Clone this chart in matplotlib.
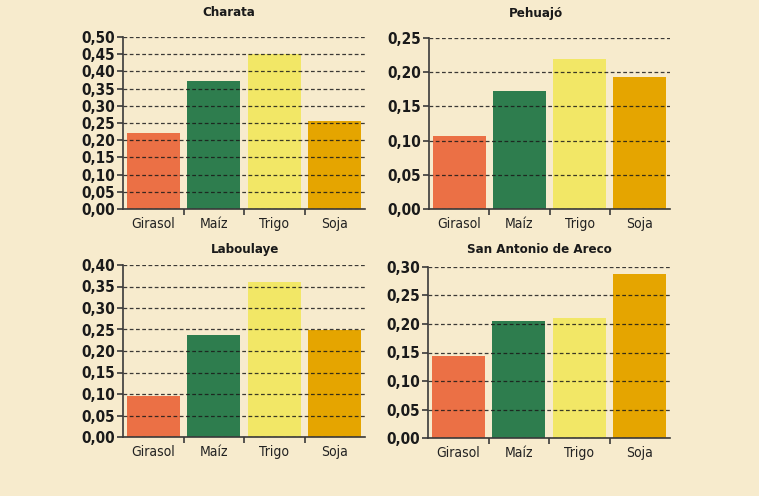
import matplotlib
matplotlib.use("Agg")
import matplotlib.pyplot as plt
from matplotlib.ticker import FuncFormatter, MultipleLocator, FixedLocator

categories = ["Girasol", "Maíz", "Trigo", "Soja"]
titles = ["Charata", "Pehuajó", "Laboulaye", "San Antonio de Areco"]
charata = [0.221, 0.372, 0.451, 0.256]
pehuajo = [0.107, 0.172, 0.219, 0.193]
laboulaye = [0.096, 0.238, 0.361, 0.249]
san_antonio = [0.143, 0.206, 0.210, 0.287]
series = [charata, pehuajo, laboulaye, san_antonio]
ymax = [0.50, 0.25, 0.40, 0.30]
ystep = [0.05, 0.05, 0.05, 0.05]

colors = ["#EB7045", "#2E7D4E", "#F2E766", "#E5A500"]
bg = "#F7EBCD"

plt.rcParams['font.family'] = ['DejaVu Sans']
plt.rcParams['font.stretch'] = 'condensed'

fig = plt.figure(figsize=(7.59, 4.96), dpi=100, facecolor=bg)
W, H = 759, 496
boxes = [(123, 37, 365, 209), (429, 38, 670, 209),
         (123, 265, 365, 437), (428, 267, 670, 438)]
title_pos = [(229, 13), (536, 13), (245, 249), (539, 249)]

for i, (x0, y0, x1, y1) in enumerate(boxes):
    ax = fig.add_axes([x0 / W, 1 - y1 / H, (x1 - x0) / W, (y1 - y0) / H])
    ax.set_facecolor(bg)
    xs = range(len(categories))
    ax.bar(xs, series[i], width=0.88, color=colors, zorder=2)
    ax.set_xlim(-0.5, 3.5)
    ax.set_ylim(0, ymax[i])
    ax.yaxis.set_major_locator(MultipleLocator(ystep[i]))
    ax.yaxis.set_major_formatter(FuncFormatter(lambda v, p: f"{v:.2f}".replace(".", ",")))
    ax.grid(axis='y', linestyle=(0, (3, 2)), color='#1a1a1a', linewidth=0.9, alpha=0.85, zorder=3)
    ax.set_axisbelow(False)
    for s in ['top', 'right']:
        ax.spines[s].set_visible(False)
    for s in ['left', 'bottom']:
        ax.spines[s].set_color('#3a3a3a')
        ax.spines[s].set_linewidth(1.2)
        ax.spines[s].set_zorder(4)
    ax.set_xticks(list(xs))
    ax.set_xticklabels(categories, fontsize=10, color='#222222', fontstretch='condensed')
    ax.tick_params(axis='x', which='major', length=0, pad=6)
    ax.xaxis.set_minor_locator(FixedLocator([0.5, 1.5, 2.5]))
    ax.tick_params(axis='x', which='minor', length=4, width=1.2, color='#3a3a3a')
    ax.tick_params(axis='y', length=4, width=1.2, color='#3a3a3a', pad=2)
    for lab in ax.get_yticklabels():
        lab.set_fontweight('bold')
        lab.set_fontstretch('condensed')
        lab.set_fontsize(11)
        lab.set_color('#1a1a1a')
    tx, ty = title_pos[i]
    fig.text(tx / W, 1 - ty / H, titles[i], fontsize=9.5, fontweight='bold',
             color='#1a1a1a', ha='center', va='center', fontstretch='condensed')

fig.savefig("out.png", dpi=100, facecolor=bg)
